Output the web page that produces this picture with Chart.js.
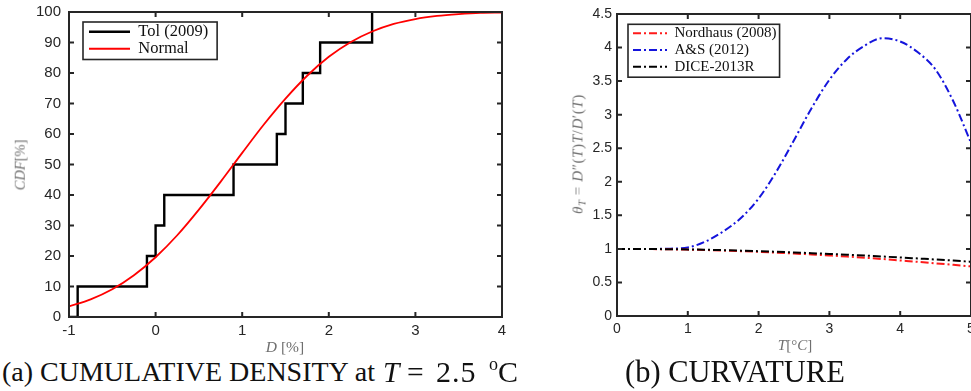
<!DOCTYPE html>
<html><head><meta charset="utf-8">
<script src="https://cdn.jsdelivr.net/npm/chart.js@4/dist/chart.umd.min.js"></script>
<style>
html,body{margin:0;padding:0;background:#fff;overflow:hidden;}
#wrap{position:relative;width:971px;height:391px;overflow:hidden;background:#fff;}
canvas{position:absolute;top:0;}
.cap{position:absolute;font-family:'Liberation Serif','Times New Roman',serif;color:#111;white-space:nowrap;line-height:30px;}
.ax{position:absolute;font-family:'Liberation Serif','Times New Roman',serif;color:#6f6f6f;white-space:nowrap;line-height:1;}
.rot{transform-origin:center center;transform:translate(-50%,-50%) rotate(-90deg);}
sub.s{font-size:0.7em;vertical-align:-0.3em;line-height:0;}
</style></head><body>
<div id="wrap">
<canvas id="ca" width="520" height="355" style="left:0"></canvas>
<canvas id="cb" width="480" height="355" style="left:520px"></canvas>

<div class="ax rot" style="left:20px;top:165px;font-size:14.5px;"><i>CDF</i>[%]</div>
<div class="ax" style="left:285px;top:347px;transform:translate(-50%,-50%);font-size:15.5px;"><i>D</i> [%]</div>
<div class="ax" style="left:795px;top:345px;transform:translate(-50%,-50%);font-size:15px;"><i>T</i>[°<i>C</i>]</div>
<div class="ax rot" style="left:578px;top:154px;font-size:15px;letter-spacing:0.6px;"><i>θ</i><sub class="s"><i>T</i></sub>&nbsp;=&nbsp;<i>D</i>″(<i>T</i>)<i>T</i>/<i>D</i>′(<i>T</i>)</div>

<div class="cap" style="left:2px;top:357px;font-size:28px;">(a) CUMULATIVE DENSITY at</div>
<div class="cap" style="left:383px;top:357px;font-size:29.5px;"><i>T</i></div>
<div class="cap" style="left:407px;top:357px;font-size:29.5px;">=</div>
<div class="cap" style="left:436px;top:357px;font-size:30px;letter-spacing:1px;">2.5</div>
<div class="cap" style="left:489px;top:349px;font-size:18px;">o</div>
<div class="cap" style="left:498px;top:357px;font-size:30px;">C</div>
<div class="cap" style="left:625px;top:357px;font-size:30.5px;">(b) CURVATURE</div>
</div>
<script>
// ---------- data: panel (a) ----------
const tolD    = [-1, -0.9, -0.1, 0, 0.1, 0.9, 1.4, 1.5, 1.7, 1.9, 2.5];
const tolCdf  = [0, 10, 20, 30, 40, 50, 60, 70, 80, 90, 100];
const normD   = [-1, -0.75, -0.5, -0.25, 0, 0.25, 0.5, 0.75, 1, 1.25, 1.5, 1.75, 2, 2.25, 2.5, 2.75, 3, 3.25, 3.5, 3.75, 4];
const normCdf = [3.5, 5.8, 9.1, 13.7, 19.6, 26.8, 35.2, 44.3, 53.8, 63.1, 71.6, 79.1, 85.3, 90.1, 93.6, 96.1, 97.7, 98.7, 99.3, 99.7, 99.8];
const xTicksA = [-1, 0, 1, 2, 3, 4];
const yTicksA = [0, 10, 20, 30, 40, 50, 60, 70, 80, 90, 100];
const labelsA = ['Tol (2009)', 'Normal'];

// ---------- data: panel (b) ----------
const tempT     = [0, 0.25, 0.5, 0.75, 1, 1.25, 1.5, 1.75, 2, 2.25, 2.5, 2.75, 3, 3.25, 3.5, 3.75, 4, 4.25, 4.5, 4.75, 5];
const nordhaus  = [1.000, 0.999, 0.997, 0.994, 0.989, 0.983, 0.975, 0.966, 0.956, 0.944, 0.931, 0.917, 0.902, 0.886, 0.868, 0.849, 0.828, 0.807, 0.785, 0.762, 0.738];
const asCurv    = [1.0, 1.0, 1.0, 1.003, 1.02, 1.11, 1.26, 1.46, 1.75, 2.15, 2.62, 3.10, 3.52, 3.83, 4.03, 4.14, 4.09, 3.93, 3.67, 3.20, 2.58];
const dice2013  = [1.000, 1.000, 0.998, 0.995, 0.992, 0.987, 0.981, 0.974, 0.966, 0.957, 0.947, 0.936, 0.925, 0.913, 0.900, 0.886, 0.872, 0.857, 0.842, 0.826, 0.808];
const xTicksB = [0, 1, 2, 3, 4, 5];
const yTicksB = [0, 0.5, 1, 1.5, 2, 2.5, 3, 3.5, 4, 4.5];
const labelsB = ['Nordhaus (2008)', 'A&S (2012)', 'DICE-2013R'];

const pts = (xs, ys) => xs.map((x, i) => ({x, y: ys[i]}));
const AX = '#262626';

function framePlugin(lw, len) {
  return {
    id: 'frame',
    afterDatasetsDraw(chart) {
      const {ctx, chartArea: a, scales: {x, y}} = chart;
      ctx.save();
      ctx.strokeStyle = AX; ctx.lineWidth = lw; ctx.setLineDash([]);
      ctx.strokeRect(a.left, a.top, a.right - a.left, a.bottom - a.top);
      ctx.beginPath();
      x.ticks.forEach(t => { const p = x.getPixelForValue(t.value);
        ctx.moveTo(p, a.bottom); ctx.lineTo(p, a.bottom - len);
        ctx.moveTo(p, a.top); ctx.lineTo(p, a.top + len); });
      y.ticks.forEach(t => { const p = y.getPixelForValue(t.value);
        ctx.moveTo(a.left, p); ctx.lineTo(a.left + len, p);
        ctx.moveTo(a.right, p); ctx.lineTo(a.right - len, p); });
      ctx.stroke();
      ctx.restore();
    }
  };
}
function legendPlugin(dx, dy, pad) {
  return {
    id: 'legendBox',
    afterLayout(chart) {
      const lg = chart.legend, p = lg.options.labels.padding;
      lg.left = chart.chartArea.left + dx - p;
      lg.top = chart.chartArea.top + dy - p;
    },
    afterDraw(chart) {
      const hb = chart.legend.legendHitBoxes;
      let l = 1e9, t = 1e9, r = -1e9, b = -1e9;
      hb.forEach(h => { l = Math.min(l, h.left); t = Math.min(t, h.top);
        r = Math.max(r, h.left + h.width); b = Math.max(b, h.top + h.height); });
      const ctx = chart.ctx;
      ctx.save(); ctx.strokeStyle = AX; ctx.lineWidth = 1.6; ctx.setLineDash([]);
      ctx.strokeRect(l - pad[0], t - pad[1], r - l + pad[0] + pad[2], b - t + pad[1] + pad[3]);
      ctx.restore();
    }
  };
}
function fixedTicks(arr) { return s => { s.ticks = arr.map(v => ({value: v})); }; }
function dashedLabels(chart) {
  return Chart.defaults.plugins.legend.labels.generateLabels(chart).map(it => {
    const ds = chart.data.datasets[it.datasetIndex];
    it.lineDash = ds.borderDash || [];
    it.strokeStyle = ds.borderColor;
    it.lineWidth = ds.borderWidth;
    return it;
  });
}

// ---------- chart (a) ----------
new Chart(document.getElementById('ca'), {
  type: 'line',
  data: {
    datasets: [
      {label: labelsA[0], data: pts(tolD, tolCdf), borderColor: '#000', borderWidth: 2.4,
       stepped: 'before', pointRadius: 0, order: 1, borderJoinStyle: 'miter'},
      {label: labelsA[1], data: pts(normD, normCdf), borderColor: '#ff0000', borderWidth: 1.8,
       cubicInterpolationMode: 'monotone', pointRadius: 0, order: 0}
    ]
  },
  options: {
    responsive: false, animation: false, events: [],
    layout: {padding: {left: 0, top: 12, right: 18, bottom: 0}},
    scales: {
      x: {type: 'linear', min: -1, max: 4, afterBuildTicks: fixedTicks(xTicksA),
          afterFit: s => { s.height = 38; },
          grid: {display: false, drawTicks: true, tickLength: 5}, border: {display: false},
          ticks: {padding: 0, color: AX, font: {family: 'Liberation Sans', size: 15}, callback: v => String(v)}},
      y: {type: 'linear', min: 0, max: 100, afterBuildTicks: fixedTicks(yTicksA),
          afterFit: s => { s.width = 69; },
          grid: {display: false, drawTicks: true, tickLength: 8}, border: {display: false},
          ticks: {padding: 0, color: AX, font: {family: 'Liberation Sans', size: 15}, callback: v => String(v)}}
    },
    plugins: {
      tooltip: {enabled: false},
      legend: {position: 'chartArea', align: 'start',
        labels: {usePointStyle: true, pointStyle: 'line', pointStyleWidth: 41, padding: 0.5,
          color: '#111', font: {family: 'Liberation Serif', size: 16.5},
          generateLabels: dashedLabels,
          sort: (a, b) => a.datasetIndex - b.datasetIndex}}
    }
  },
  plugins: [framePlugin(2, 5), legendPlugin(20, 11.5, [6, 1.5, 9, 2.5])]
});

// ---------- chart (b) ----------
const dash = [8, 3, 2, 3];
new Chart(document.getElementById('cb'), {
  type: 'line',
  data: {
    datasets: [
      {label: labelsB[0], data: pts(tempT, nordhaus), borderColor: '#ff1a1a', borderWidth: 2, borderDash: dash,
       cubicInterpolationMode: 'monotone', pointRadius: 0, order: 1},
      {label: labelsB[1], data: pts(tempT, asCurv), borderColor: '#1414dc', borderWidth: 2, borderDash: dash,
       cubicInterpolationMode: 'monotone', pointRadius: 0, order: 2},
      {label: labelsB[2], data: pts(tempT, dice2013), borderColor: '#000', borderWidth: 2, borderDash: dash,
       cubicInterpolationMode: 'monotone', pointRadius: 0, order: 0}
    ]
  },
  options: {
    responsive: false, animation: false, events: [],
    layout: {padding: {left: 0, top: 14, right: 29, bottom: 0}},
    scales: {
      x: {type: 'linear', min: 0, max: 5, afterBuildTicks: fixedTicks(xTicksB),
          afterFit: s => { s.height = 39; },
          grid: {display: false, drawTicks: true, tickLength: 4.5}, border: {display: false},
          ticks: {padding: 0, color: AX, font: {family: 'Liberation Sans', size: 14}, callback: v => String(v)}},
      y: {type: 'linear', min: 0, max: 4.5, afterBuildTicks: fixedTicks(yTicksB),
          afterFit: s => { s.width = 97; },
          grid: {display: false, drawTicks: true, tickLength: 5}, border: {display: false},
          ticks: {padding: 0, color: AX, font: {family: 'Liberation Sans', size: 14}, callback: v => String(v)}}
    },
    plugins: {
      tooltip: {enabled: false},
      legend: {position: 'chartArea', align: 'start',
        labels: {usePointStyle: true, pointStyle: 'line', pointStyleWidth: 34, padding: 1.7,
          color: '#111', font: {family: 'Liberation Serif', size: 15},
          generateLabels: dashedLabels,
          sort: (a, b) => a.datasetIndex - b.datasetIndex}}
    }
  },
  plugins: [framePlugin(2, 5), legendPlugin(16, 11.8, [5, 1.5, 3, 3])]
});
</script>
</body></html>
